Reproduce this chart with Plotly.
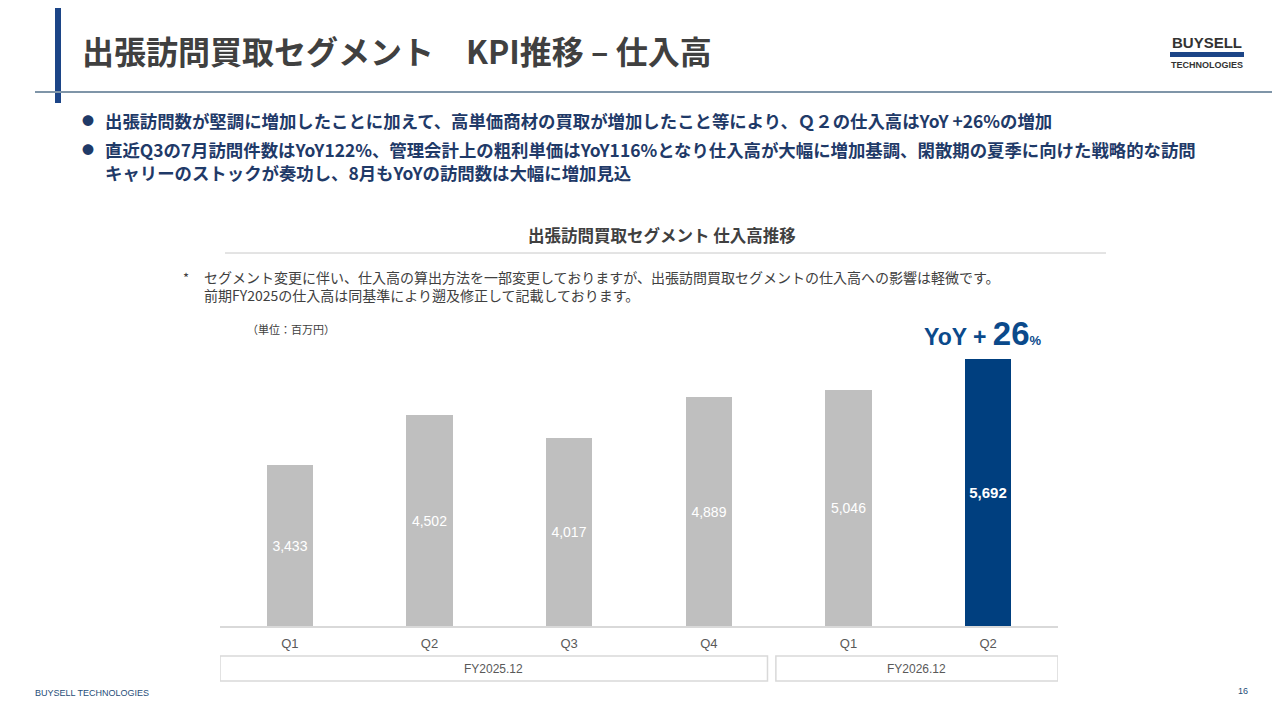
import plotly.graph_objs as go

quarters = ['Q1', 'Q2', 'Q3', 'Q4', 'Q1', 'Q2']
purchases = [3433, 4502, 4017, 4889, 5046, 5692]
fiscal_years = ['FY2025.12', 'FY2026.12']
highlight = 5  # latest quarter

GREY = '#bfbfbf'
NAVY = '#003f7f'
TXT_NAVY = '#1f3a68'
TXT_GREY = '#404040'

# plot area in slide pixels (used to place the slide decorations)
L, R, T, B = 220, 1058, 345, 626
OFF = 8  # page body margin
W, H = 1280 - OFF, 720 - OFF


def px(x):
    return (x - L) / (R - L)


def py(y):
    return (B - y) / (B - T)


x_idx = list(range(len(quarters)))
colors = [NAVY if i == highlight else GREY for i in x_idx]
labels = ['{:,}'.format(v) for v in purchases]

bar = go.Bar(
    x=x_idx, y=purchases, width=0.33,
    marker=dict(color=colors, line=dict(width=0)),
    text=labels, textposition='inside', insidetextanchor='middle',
    textangle=0,
    texttemplate=['<b>%{text}</b>' if i == highlight else '%{text}' for i in x_idx],
    textfont=dict(color='white', size=[15 if i == highlight else 14 for i in x_idx],
                  family='Liberation Sans'),
    hoverinfo='skip',
)

fig = go.Figure(data=[bar])

fig.update_layout(
    width=W, height=H,
    margin=dict(l=L - OFF, r=1280 - R, t=T - OFF, b=720 - B),
    paper_bgcolor='white', plot_bgcolor='white',
    showlegend=False,
    bargap=0,
    xaxis=dict(range=[-0.5, 5.5], tickvals=x_idx, ticktext=quarters,
               showgrid=False, zeroline=False, showline=True,
               linecolor='#d9d9d9', linewidth=2, ticks='', ticklabelstandoff=4,
               tickfont=dict(size=13, color='#595959', family='Liberation Sans')),
    yaxis=dict(range=[0, 6000], visible=False),
    font=dict(family='Noto Sans CJK JP'),
)

shapes = []
annos = []


def note(x, y, text, size, color, anchor='left', family=None, xref='paper'):
    f = dict(size=size, color=color)
    if family:
        f['family'] = family
    annos.append(dict(x=x if xref == 'x' else px(x), y=py(y), xref=xref, yref='paper',
                      xanchor=anchor, yanchor='middle', text=text,
                      showarrow=False, font=f))


# header decorations
shapes.append(dict(type='rect', xref='paper', yref='paper',
                   x0=px(55), x1=px(61), y0=py(0), y1=py(103),
                   fillcolor='#1c4587', line=dict(width=0), layer='above'))
shapes.append(dict(type='line', xref='paper', yref='paper',
                   x0=px(35), x1=px(1280), y0=py(92), y1=py(92),
                   line=dict(color='#7f95a8', width=2)))
shapes.append(dict(type='rect', xref='paper', yref='paper',
                   x0=px(1170), x1=px(1244), y0=py(52), y1=py(57),
                   fillcolor='#1c4587', line=dict(width=0)))
# chart title rule
shapes.append(dict(type='line', xref='paper', yref='paper',
                   x0=px(225), x1=px(1106), y0=py(253), y1=py(253),
                   line=dict(color='#c8c8c8', width=1)))
# fiscal year boxes
for (x0, x1), fy in zip([(-0.5, 3.42), (3.48, 5.5)], fiscal_years):
    shapes.append(dict(type='rect', xref='x', yref='paper',
                       x0=x0, x1=x1, y0=py(681), y1=py(656),
                       line=dict(color='#d9d9d9', width=1.5), fillcolor='white'))
    note((x0 + x1) / 2, 668.5, fy, 12, '#595959', 'center', 'Liberation Sans', xref='x')

note(80, 50, '<b>出張訪問買取セグメント　KPI推移 – 仕入高</b>', 32, TXT_GREY)
note(1207, 42, '<b>BUYSELL</b>', 15, '#333333', 'center', 'Liberation Sans')
note(1207, 65, '<b>TECHNOLOGIES</b>', 9, '#333333', 'center', 'Liberation Sans')

bullets = [
    (120, '●', '出張訪問数が堅調に増加したことに加えて、高単価商材の買取が増加したこと等により、Ｑ２の仕入高はYoY +26%の増加'),
    (150, '●', '直近Q3の7月訪問件数はYoY122%、管理会計上の粗利単価はYoY116%となり仕入高が大幅に増加基調、閑散期の夏季に向けた戦略的な訪問'),
    (172, '', 'キャリーのストックが奏功し、8月もYoYの訪問数は大幅に増加見込'),
]
for y, mark, line in bullets:
    if mark:
        note(88, y, mark, 12, TXT_NAVY, 'center')
    note(103, y, '<b>' + line + '</b>', 17.4, TXT_NAVY)

note(662, 235, '<b>出張訪問買取セグメント 仕入高推移</b>', 16.5, TXT_GREY, 'center')
note(181, 277, '*', 13, TXT_GREY)
note(202, 277, 'セグメント変更に伴い、仕入高の算出方法を一部変更しておりますが、出張訪問買取セグメントの仕入高への影響は軽微です。',
     14, TXT_GREY)
note(202, 295, '前期FY2025の仕入高は同基準により遡及修正して記載しております。', 14, TXT_GREY)
note(245, 329, '（単位：百万円）', 11, TXT_GREY)

note(highlight - 0.04, 333,
     '<b><span style="font-size:23px">YoY + </span>'
     '<span style="font-size:33px">26</span>'
     '<span style="font-size:13px">%</span></b>',
     23, '#0b4a8b', 'center', 'Liberation Sans', xref='x')

note(33, 693, 'BUYSELL TECHNOLOGIES', 9, '#1f4e79', 'left', 'Liberation Sans')
note(1243, 691, '16', 9, '#1f4e79', 'center', 'Liberation Sans')

fig.update_layout(shapes=shapes, annotations=annos)

fig.write_html('out.html')
